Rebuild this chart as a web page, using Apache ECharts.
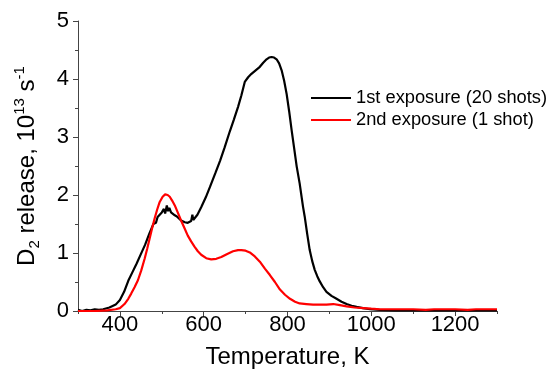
<!DOCTYPE html>
<html>
<head>
<meta charset="utf-8">
<script src="https://cdn.jsdelivr.net/npm/echarts@6/dist/echarts.min.js"></script>
<style>
html,body{margin:0;padding:0;background:#fff;}
#chart{width:554px;height:378px;}
</style>
</head>
<body>
<div id="chart"></div>
<script>
// ---- data ----
const seriesNames = ['1st exposure (20 shots)', '2nd exposure (1 shot)'];
const xMajorTicks = [400, 600, 800, 1000, 1200];
const xMinorTicks = [300, 500, 700, 900, 1100, 1300];
const yTicks = [0, 1, 2, 3, 4, 5];

const tempBlack = [300,310,320,330,340,350,360,375,390,400,410,420,430,440,450,460,470,480,486,490,495,500,505,508,512,515,518,522,526,531,536,540,546,555,562,570,573,575,585,594,605,615,628,639,650,662,672,682,690,698,706,714,724,734,742,750,756,762,768,774,780,786,792,798,804,810,816,822,829,837,841,847,853,859,865,871,877,885,893,905,917,929,941,953,965,980,997,1020,1060,1100,1150,1200,1250,1300];
const valBlack  = [0.02,0.00,0.02,0.01,0.03,0.02,0.03,0.06,0.11,0.19,0.33,0.52,0.67,0.82,0.98,1.14,1.33,1.50,1.52,1.62,1.66,1.70,1.76,1.68,1.82,1.72,1.78,1.70,1.73,1.65,1.63,1.60,1.56,1.53,1.52,1.55,1.66,1.57,1.66,1.79,1.96,2.14,2.38,2.59,2.82,3.09,3.30,3.52,3.72,3.95,4.03,4.09,4.15,4.21,4.28,4.34,4.37,4.38,4.37,4.34,4.27,4.15,3.97,3.74,3.44,3.11,2.80,2.49,2.20,1.80,1.63,1.33,1.05,0.86,0.71,0.60,0.51,0.41,0.33,0.26,0.21,0.16,0.12,0.09,0.07,0.05,0.03,0.02,0.01,0.01,0.01,0.01,0.01,0.01];

const tempRed = [300,340,370,390,400,411,420,427,435,443,451,459,465,471,477,483,489,495,502,508,514,519,525,531,538,546,554,562,570,578,586,594,606,618,630,642,655,670,682,690,700,710,722,734,746,758,770,782,794,806,818,829,845,861,877,893,909,925,941,960,981,1000,1020,1040,1070,1100,1130,1150,1180,1200,1230,1250,1280,1300];
const valRed  = [0.00,0.00,0.01,0.03,0.05,0.12,0.21,0.30,0.41,0.53,0.70,0.90,1.07,1.25,1.43,1.60,1.75,1.88,1.97,2.01,2.00,1.97,1.90,1.82,1.70,1.56,1.43,1.30,1.20,1.11,1.03,0.97,0.91,0.89,0.90,0.93,0.98,1.03,1.05,1.05,1.04,1.01,0.94,0.85,0.73,0.62,0.50,0.37,0.28,0.21,0.16,0.13,0.12,0.11,0.11,0.11,0.12,0.10,0.08,0.06,0.05,0.04,0.03,0.03,0.03,0.03,0.02,0.03,0.03,0.03,0.02,0.03,0.03,0.03];

const FONT = '"Liberation Sans", Arial, sans-serif';
const AX = '#444';

const chart = echarts.init(document.getElementById('chart'), null, {renderer: 'canvas'});
chart.setOption({
  animation: false,
  backgroundColor: '#fff',
  grid: {left: 78, right: 57, top: 21, bottom: 67, containLabel: false},
  legend: {
    orient: 'vertical', left: 306, top: 84, itemGap: 4,
    itemWidth: 40, itemHeight: 2, icon: 'rect',
    textStyle: {fontFamily: FONT, fontSize: 18.3, color: '#000', padding: [0, 0, 0, 0]},
    data: seriesNames
  },
  xAxis: [{
    type: 'value', min: 300, max: 1300, interval: 100,
    name: 'Temperature, K', nameLocation: 'middle', nameGap: 34,
    nameTextStyle: {fontFamily: FONT, fontSize: 24, color: '#000'},
    axisLine: {show: true, lineStyle: {color: AX, width: 1}},
    axisTick: {show: true, inside: false, length: 5, customValues: xMajorTicks, lineStyle: {color: AX}},
    axisLabel: {customValues: xMajorTicks, fontFamily: FONT, fontSize: 22, color: '#000', margin: 3,
      formatter: v => String(v)},
    splitLine: {show: false}
  }, {
    type: 'value', min: 300, max: 1300, interval: 100, position: 'bottom',
    axisLine: {show: false},
    axisTick: {show: true, inside: false, length: 3, customValues: xMinorTicks, lineStyle: {color: AX}},
    axisLabel: {show: false},
    splitLine: {show: false}
  }],
  yAxis: {
    type: 'value', min: 0, max: 5, interval: 1,
    name: '{a|D}{sub|2}{a| release, 10}{sup|13}{a| s}{sup|-1}',
    nameLocation: 'middle', nameRotate: 90, nameGap: 36,
    nameTextStyle: {
      fontFamily: FONT, fontSize: 24, color: '#000',
      rich: {
        a: {fontFamily: FONT, fontSize: 24, color: '#000', lineHeight: 30, verticalAlign: 'middle'},
        sub: {fontFamily: FONT, fontSize: 15, color: '#000', lineHeight: 30, verticalAlign: 'bottom'},
        sup: {fontFamily: FONT, fontSize: 15, color: '#000', lineHeight: 30, verticalAlign: 'top'}
      }
    },
    axisLine: {show: true, lineStyle: {color: AX, width: 1}},
    axisTick: {show: true, inside: false, length: 5, lineStyle: {color: AX}},
    minorTick: {show: true, splitNumber: 2, length: 3, lineStyle: {color: AX}},
    axisLabel: {fontFamily: FONT, fontSize: 22, color: '#000', margin: 9,
      formatter: v => yTicks.includes(v) ? String(v) : ''},
    splitLine: {show: false}
  },
  series: [{
    name: seriesNames[0], type: 'line', xAxisIndex: 0, showSymbol: false, symbol: 'none',
    lineStyle: {color: '#000', width: 2.2}, itemStyle: {color: '#000'},
    data: tempBlack.map((t, i) => [t, valBlack[i]])
  }, {
    name: seriesNames[1], type: 'line', xAxisIndex: 0, showSymbol: false, symbol: 'none',
    lineStyle: {color: '#ff0000', width: 2.2}, itemStyle: {color: '#ff0000'},
    data: tempRed.map((t, i) => [t, valRed[i]])
  }]
});
</script>
</body>
</html>
